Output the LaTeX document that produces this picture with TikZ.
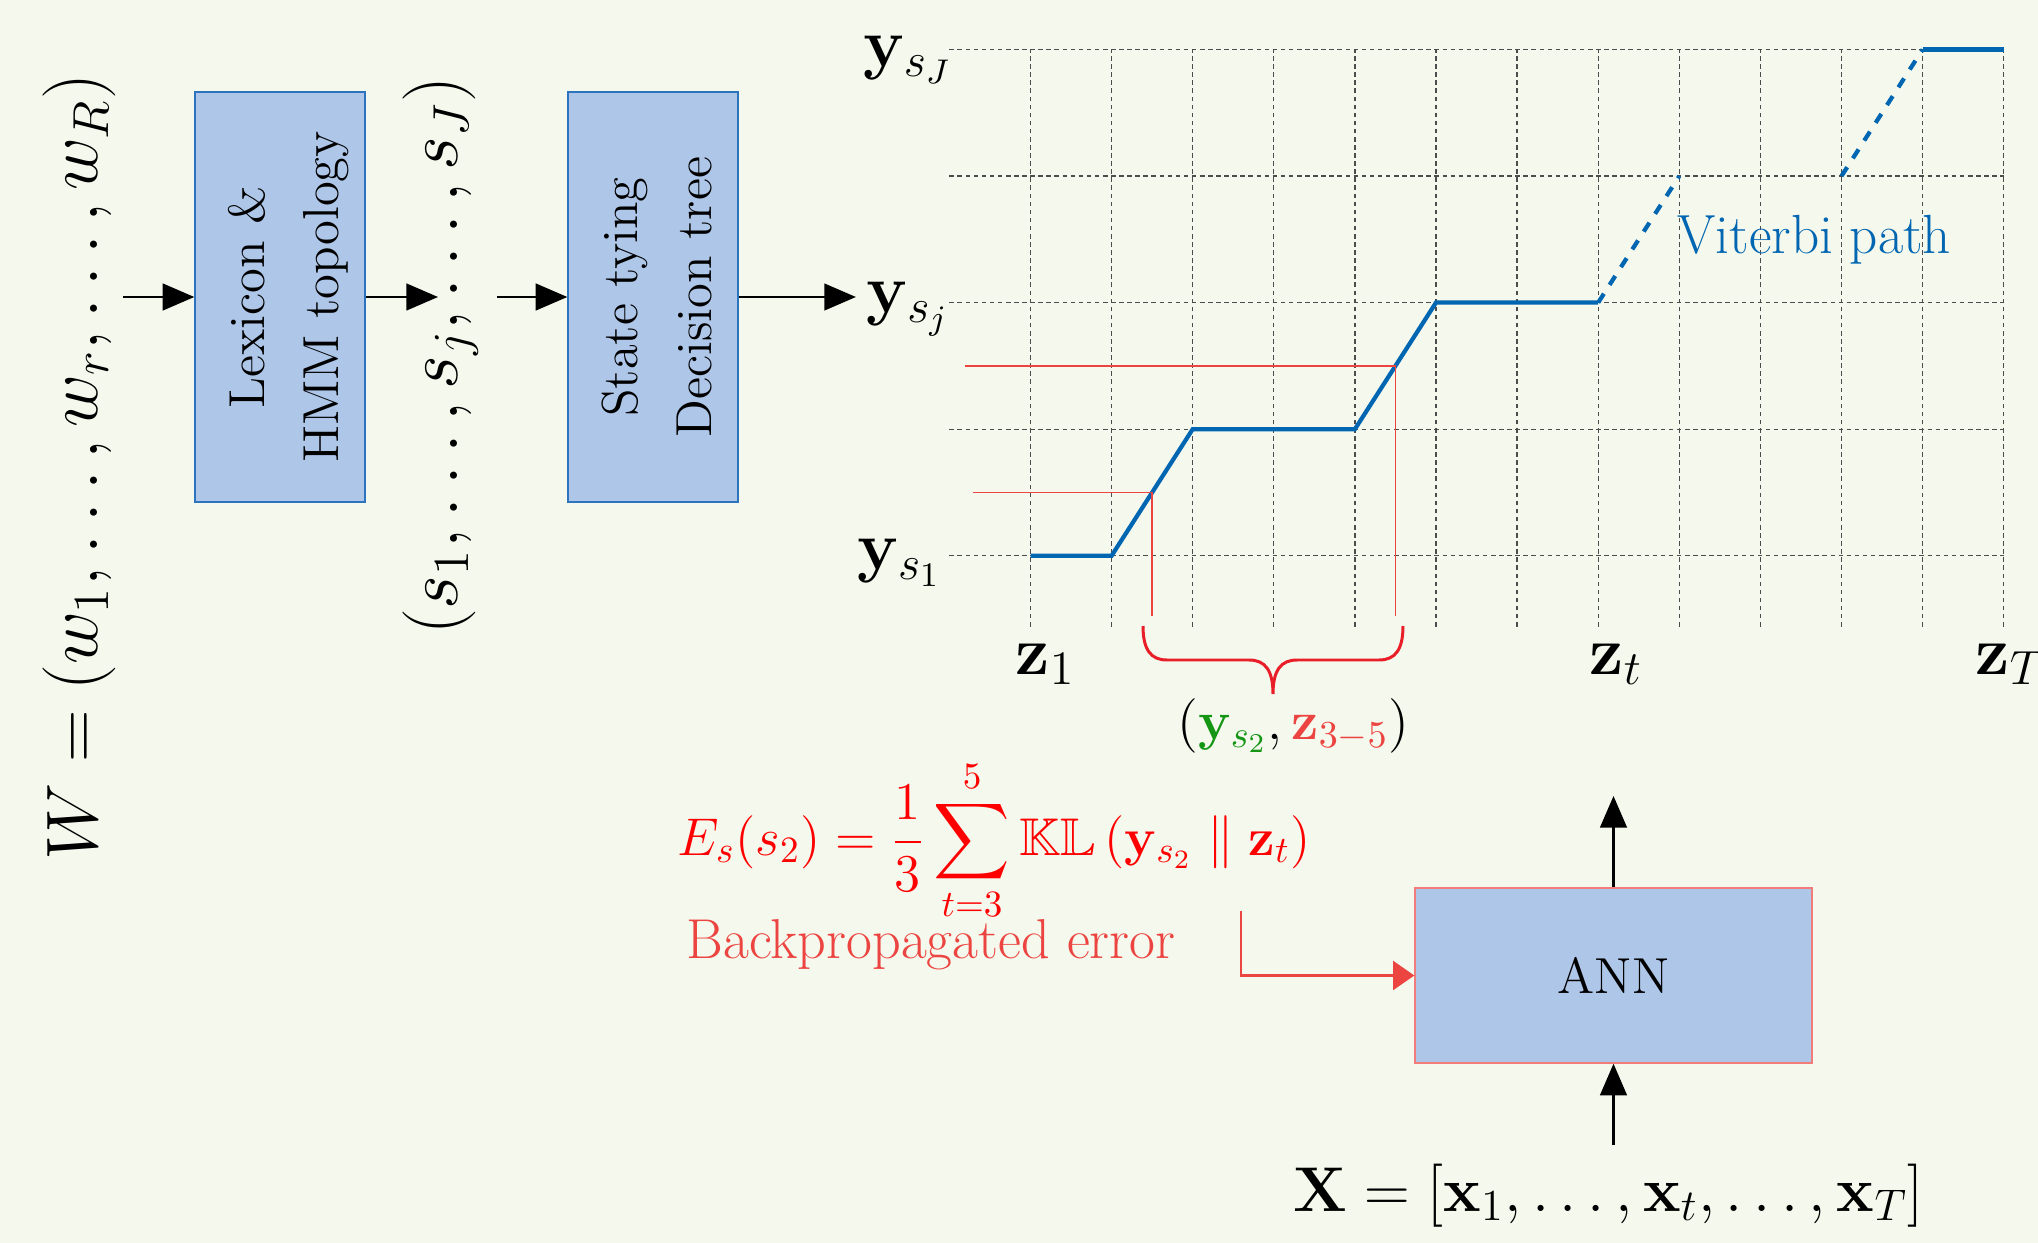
\RequirePackage{fix-cm}
\documentclass[tikz,border=0pt]{standalone}
\usepackage{amsmath,amssymb}
\usetikzlibrary{arrows.meta}

\definecolor{bgcol}{RGB}{245,248,237}
\definecolor{boxfill}{RGB}{174,198,232}
\definecolor{boxline}{RGB}{45,115,190}
\definecolor{viterbiblue}{RGB}{0,102,178}
\definecolor{errred}{RGB}{236,68,64}
\definecolor{bracered}{RGB}{232,30,40}
\definecolor{pairgreen}{RGB}{20,150,20}

\begin{document}
\begin{tikzpicture}[
  x=0.1mm, y=-0.1mm,
  font=\fontsize{14.4}{21}\selectfont,
  procbox/.style={draw=boxline, fill=boxfill, minimum width=17mm, minimum height=41mm, inner sep=0pt},
  annbox/.style={draw=errred!70, fill=boxfill, minimum width=39.7mm, minimum height=17.5mm},
  arr/.style={-{Triangle[length=9pt,width=7.6pt]}, line width=0.65pt},
  errarr/.style={-{Triangle[length=6pt,width=8.2pt]}, errred, line width=0.6pt},
  gridline/.style={black!70, line width=0.35pt, dash pattern=on 1.3pt off 1pt},
  viterbi/.style={viterbiblue, line width=1.2pt},
  guide/.style={errred, line width=0.4pt},
  biglabel/.style={inner sep=0pt, font=\fontsize{20.74}{25}\selectfont},
  axislabel/.style={inner sep=0pt, font=\fontsize{19.5}{23}\selectfont}
]
\path[use as bounding box, fill=bgcol] (0,0) rectangle (2038,1243);

% words -> states -> tied states
\node[biglabel, inner sep=2pt] (words) at (79,467) {\rotatebox{90}{$W = (w_1, \ldots, w_r, \ldots, w_R)$}};
\node[procbox] (lexicon) at (280,297) {\rotatebox{90}{\raisebox{-2pt}[\height][\depth]{\begin{tabular}{@{}c@{}}Lexicon \&\\HMM topology\end{tabular}}}};
\node[biglabel, inner sep=5pt] (states) at (441,356) {\rotatebox{90}{$(s_1, \ldots, s_j, \ldots, s_J)$}};
\node[procbox] (tying) at (653,297) {\rotatebox{90}{\raisebox{-2pt}[\height][\depth]{\begin{tabular}{@{}c@{}}State tying\\Decision tree\end{tabular}}}};
\coordinate (statesin) at (438,297);

% state axis and frame axis
\node[axislabel, anchor=base east] (ysJ) at (953,66) {$\mathbf{y}_{s_J}$};
\node[axislabel, anchor=base east] (ysj) at (950,312) {$\mathbf{y}_{s_j}$};
\node[axislabel, anchor=base east] (ys1) at (942,569) {$\mathbf{y}_{s_1}$};
\node[axislabel, anchor=base west] (z1) at (1015,674) {$\mathbf{z}_1$};
\node[axislabel, anchor=base west] (zt) at (1589,674) {$\mathbf{z}_t$};
\node[axislabel, anchor=base west] (zT) at (1975,674) {$\mathbf{z}_T$};

\draw[arr] (words.east |- lexicon.west) -- (lexicon.west);
\draw[arr] (lexicon.east) -- (statesin);
\draw[arr] (states.east |- tying.west) -- (tying.west);
\draw[arr] (tying.east) -- ([xshift=-1mm]ysj.west |- tying.east);

\begin{scope}[shift={(1030.5,555.7)}, x=8.11mm, y=12.655mm]
  \foreach \i in {0,...,12}
    \draw[gridline] (\i,-0.56) -- (\i,4);
  \foreach \j in {0,...,4}
    \draw[gridline] (-1,\j) -- (12,\j);
  % alignment path
  \draw[viterbi] (0,0) -- (1,0) -- (2,1) -- (4,1) -- (5,2) -- (7,2);
  \draw[viterbi, dashed] (7,2) -- (8,3);
  \draw[viterbi, dashed] (10,3) -- (11,4);
  \draw[viterbi] (11,4) -- (12,4);
  % frames of s_2
  \draw[guide] (-0.71,0.5) -- (1.5,0.5) -- (1.5,-0.48);
  \draw[guide] (-0.81,1.5) -- (4.5,1.5) -- (4.5,-0.48);
\end{scope}
\node[anchor=base west, inner sep=0pt, text=viterbiblue, font=\fontsize{15.7}{18}\selectfont] (vitlabel) at (1677,253) {Viterbi path};

% brace under frames 3-5
\draw[bracered, line width=0.85pt] (1143,626) .. controls (1143,650) and (1151,660) .. (1167,660) -- (1249,660)
  .. controls (1265,660) and (1273,670) .. (1273,694) .. controls (1273,670) and (1281,660) .. (1297,660)
  -- (1379,660) .. controls (1395,660) and (1403,650) .. (1403,626);
\node[inner sep=0pt, anchor=base west, font=\fontsize{15.5}{19}\selectfont] (pair) at (1177,739)
  {$({\color{pairgreen}\mathbf{y}_{s_2}}, {\color{errred}\mathbf{z}_{3-5}})$};

% error and network
\node[inner sep=0pt, anchor=base west, text=red, font=\fontsize{15.1}{19}\selectfont] (loss) at (677,855)
  {$\displaystyle E_s(s_2) = \frac{1}{3}\sum_{t=3}^{5}\mathbb{KL}\left(\mathbf{y}_{s_2}\parallel\mathbf{z}_t\right)$};
\node[inner sep=0pt, anchor=base west, text=errred, font=\fontsize{16}{19}\selectfont] (backprop) at (686,958) {Backpropagated error};

\node[annbox] (ann) at (1613.5,975.5) {ANN};
\coordinate (errin) at (1241,911);
\coordinate (annout) at (1613.5,796);
\node[inner sep=5pt, anchor=base west, font=\fontsize{18}{21}\selectfont] (frames) at (1275,1211)
  {$\mathbf{X} = \left[\mathbf{x}_1, \ldots, \mathbf{x}_t, \ldots, \mathbf{x}_T\right]$};

\draw[errarr] (errin) |- (ann.west);
\draw[arr] (ann.north) -- (annout);
\draw[arr] (ann.south |- frames.north) -- (ann.south);
\end{tikzpicture}
\end{document}
